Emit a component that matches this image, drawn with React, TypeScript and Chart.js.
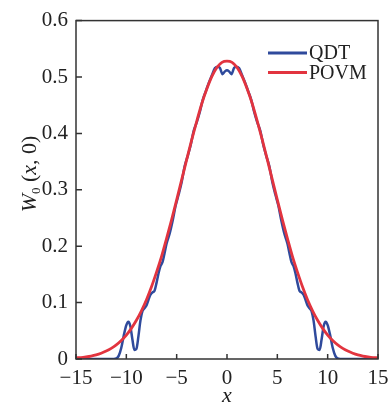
import React, { useEffect, useRef } from "react";
import { Chart, registerables } from "chart.js";

Chart.register(...registerables);

const FONT = "'Liberation Serif', 'Times New Roman', serif";

const seriesLabels = ["QDT", "POVM"];
const seriesColors = ["#2f4a9c", "#e2343f"];

const xTicks = [-15, -10, -5, 0, 5, 10, 15];
const yTicks = [0, 0.1, 0.2, 0.3, 0.4, 0.5, 0.6];

const povmX = [
  -15, -14.5, -14, -13.5, -13, -12.5, -12, -11.5, -11, -10.5, -10, -9.5, -9, -8.5, -8, -7.5,
  -7, -6.5, -6, -5.5, -5, -4.5, -4, -3.5, -3, -2.5, -2, -1.5, -1, -0.5, 0,
  0.5, 1, 1.5, 2, 2.5, 3, 3.5, 4, 4.5, 5, 5.5, 6, 6.5, 7, 7.5, 8, 8.5, 9, 9.5, 10,
  10.5, 11, 11.5, 12, 12.5, 13, 13.5, 14, 14.5, 15,
];
const povmY = [
  0.002, 0.0026, 0.0038, 0.0053, 0.0074, 0.0103, 0.014, 0.0188, 0.0249, 0.0327, 0.0424, 0.0543,
  0.0686, 0.0855, 0.105, 0.128, 0.154, 0.182, 0.214, 0.247, 0.282, 0.318, 0.354, 0.389, 0.422,
  0.453, 0.479, 0.501, 0.517, 0.526, 0.528,
  0.526, 0.517, 0.501, 0.479, 0.453, 0.422, 0.389, 0.354, 0.318, 0.282, 0.247, 0.214, 0.182,
  0.154, 0.128, 0.105, 0.0855, 0.0686, 0.0543, 0.0424, 0.0327, 0.0249, 0.0188, 0.014, 0.0103,
  0.0074, 0.0053, 0.0038, 0.0026, 0.002,
];

const qdtX = [
  -15, -13, -11.5, -11, -10.75, -10.5, -10.25, -10, -9.8, -9.6, -9.4, -9.2, -9, -8.8, -8.6, -8.4,
  -8.2, -8, -7.8, -7.6, -7.4, -7.2, -7, -6.8, -6.6, -6.4, -6.2, -6, -5.7, -5.4, -5.1, -4.8, -4.5,
  -4.2, -3.9, -3.6, -3.3, -3, -2.7, -2.4, -2.1, -1.8, -1.5, -1.2, -0.9, -0.7, -0.45, -0.2, 0,
  0.2, 0.45, 0.7, 0.9, 1.2, 1.5, 1.8, 2.1, 2.4, 2.7, 3, 3.3, 3.6, 3.9, 4.2, 4.5, 4.8, 5.1, 5.4,
  5.7, 6, 6.2, 6.4, 6.6, 6.8, 7, 7.2, 7.4, 7.6, 7.8, 8, 8.2, 8.4, 8.6, 8.8, 9, 9.2, 9.4, 9.6,
  9.8, 10, 10.25, 10.5, 10.75, 11, 11.5, 13, 15,
];
const qdtY = [
  0, 0, 0, 0.001, 0.006, 0.02, 0.042, 0.06, 0.066, 0.058, 0.035, 0.016, 0.018, 0.04, 0.068, 0.085,
  0.09, 0.095, 0.105, 0.114, 0.118, 0.121, 0.135, 0.152, 0.165, 0.172, 0.188, 0.205, 0.222, 0.245,
  0.272, 0.292, 0.314, 0.342, 0.36, 0.38, 0.405, 0.42, 0.438, 0.46, 0.475, 0.49, 0.503, 0.516,
  0.518, 0.516, 0.505, 0.51, 0.512,
  0.51, 0.505, 0.516, 0.518, 0.516, 0.503, 0.49, 0.475, 0.46, 0.438, 0.42, 0.405, 0.38, 0.36,
  0.342, 0.314, 0.292, 0.272, 0.245, 0.222, 0.205, 0.188, 0.172, 0.165, 0.152, 0.135, 0.121,
  0.118, 0.114, 0.105, 0.095, 0.09, 0.085, 0.068, 0.04, 0.018, 0.016, 0.035, 0.058, 0.066, 0.06,
  0.042, 0.02, 0.006, 0.001, 0, 0, 0,
];

const decor = {
  id: "decor",
  afterDatasetsDraw(chart: any) {
    const { ctx, chartArea: a, scales } = chart;
    ctx.save();
    ctx.strokeStyle = "#333";
    ctx.lineWidth = 1.5;
    ctx.strokeRect(a.left, a.top, a.right - a.left, a.bottom - a.top);
    ctx.beginPath();
    for (const v of xTicks) {
      const px = scales.x.getPixelForValue(v);
      ctx.moveTo(px, a.bottom);
      ctx.lineTo(px, a.bottom - 5);
    }
    for (const v of yTicks) {
      const py = scales.y.getPixelForValue(v);
      ctx.moveTo(a.left, py);
      ctx.lineTo(a.left + 6, py);
    }
    ctx.stroke();

    // legend
    const ds = chart.data.datasets;
    ds.forEach((d: any, i: number) => {
      const y = 53 + i * 19.5;
      ctx.strokeStyle = d.borderColor;
      ctx.lineWidth = 3;
      ctx.beginPath();
      ctx.moveTo(268, y);
      ctx.lineTo(307, y);
      ctx.stroke();
      ctx.fillStyle = "#222";
      ctx.font = `20px ${FONT}`;
      ctx.textBaseline = "middle";
      ctx.textAlign = "left";
      ctx.fillText(d.label, 309, y + 1);
    });

    // x axis title
    ctx.fillStyle = "#222";
    ctx.font = `italic 22px ${FONT}`;
    ctx.textAlign = "center";
    ctx.textBaseline = "alphabetic";
    ctx.fillText("x", (a.left + a.right) / 2, 402);

    // y axis title
    const parts = [
      { t: "W", f: `italic 22px ${FONT}`, dy: 0 },
      { t: "0", f: `13px ${FONT}`, dy: 4 },
      { t: " (", f: `22px ${FONT}`, dy: 0 },
      { t: "x", f: `italic 22px ${FONT}`, dy: 0 },
      { t: ", 0)", f: `22px ${FONT}`, dy: 0 },
    ];
    let total = 0;
    const widths = parts.map((p) => {
      ctx.font = p.f;
      const w = ctx.measureText(p.t).width;
      total += w;
      return w;
    });
    ctx.translate(36, 174);
    ctx.rotate(-Math.PI / 2);
    ctx.textAlign = "left";
    let cx = -total / 2;
    parts.forEach((p, i) => {
      ctx.font = p.f;
      ctx.fillText(p.t, cx, p.dy);
      cx += widths[i];
    });
    ctx.restore();
  },
};

export default function App() {
  const ref = useRef<HTMLCanvasElement | null>(null);
  useEffect(() => {
    if (!ref.current) return;
    const chart = new Chart(ref.current, {
      type: "line",
      data: {
        datasets: [
          {
            label: seriesLabels[0],
            data: qdtX.map((x, i) => ({ x, y: qdtY[i] })),
            borderColor: seriesColors[0],
            borderWidth: 2.5,
            pointRadius: 0,
            fill: false,
            cubicInterpolationMode: "monotone",
            order: 1,
          },
          {
            label: seriesLabels[1],
            data: povmX.map((x, i) => ({ x, y: povmY[i] })),
            borderColor: seriesColors[1],
            borderWidth: 2.8,
            pointRadius: 0,
            fill: false,
            cubicInterpolationMode: "monotone",
            order: 0,
          },
        ],
      },
      options: {
        animation: false,
        responsive: false,
        devicePixelRatio: 1,
        layout: { padding: { top: 18, right: 12, left: 0, bottom: 0 } },
        plugins: { legend: { display: false }, tooltip: { enabled: false } },
        scales: {
          x: {
            type: "linear",
            min: -15,
            max: 15,
            grid: { display: false, drawTicks: false },
            border: { display: false },
            ticks: {
              stepSize: 5,
              color: "#222",
              padding: 7,
              font: { family: FONT, size: 21 },
              callback: (v: any) => String(v).replace("-", "\u2212"),
            },
            afterFit: (s: any) => {
              s.height = 49;
              s.paddingRight = 0;
              s.paddingLeft = 0;
            },
          },
          y: {
            min: 0,
            max: 0.6,
            grid: { display: false, drawTicks: false },
            border: { display: false },
            ticks: {
              stepSize: 0.1,
              color: "#222",
              padding: 8,
              font: { family: FONT, size: 21 },
              callback: (v: any) => String(Math.round(v * 10) / 10),
            },
            afterFit: (s: any) => {
              s.width = 76;
            },
          },
        },
      },
      plugins: [decor],
    });
    return () => chart.destroy();
  }, []);
  return (
    <div style={{ position: "fixed", left: 0, top: 0, width: 390, height: 408, background: "#fff" }}>
      <canvas ref={ref} width={390} height={408} />
    </div>
  );
}
